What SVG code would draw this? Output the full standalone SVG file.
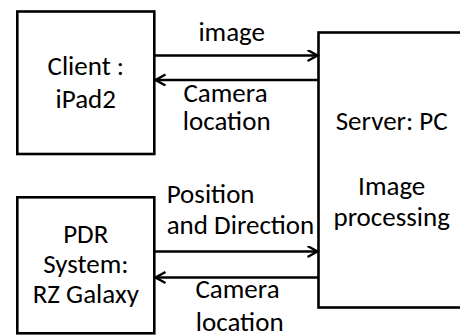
<svg xmlns="http://www.w3.org/2000/svg" width="460" height="336" viewBox="0 0 460 336">
<style>
.box{fill:#fff;stroke:#000;stroke-width:2.6}
.t{font-family:Carlito,Lato,"Liberation Sans",sans-serif;font-size:27px;fill:#000}
.c{text-anchor:middle}
.ln{stroke:#000;stroke-width:2.4;fill:none}
</style>
<defs>
<marker id="ah" markerUnits="userSpaceOnUse" markerWidth="14" markerHeight="14" refX="11" refY="6" orient="auto">
<path d="M1,0.5 L11,6 L1,11.5" fill="none" stroke="#000" stroke-width="2.4"/>
</marker>
</defs>
<rect width="460" height="336" fill="#fff"/>
<g id="client">
<rect class="box" x="17.3" y="11.5" width="137" height="142.5"/>
<text class="t c" x="85.8" y="75">Client :</text>
<text class="t c" x="85.8" y="108">iPad2</text>
</g>
<g id="pdr">
<rect class="box" x="17.3" y="197.3" width="137" height="136"/>
<text class="t c" x="85.8" y="243.3">PDR</text>
<text class="t c" x="85.8" y="273">System:</text>
<text class="t c" x="85.8" y="303">RZ Galaxy</text>
</g>
<g id="server">
<rect class="box" x="318.5" y="32.5" width="150" height="275"/>
<text class="t c" x="391.7" y="130">Server: PC</text>
<text class="t c" x="391.7" y="195">Image</text>
<text class="t c" x="391.7" y="226">processing</text>
</g>
<g id="connectors">
<line class="ln" x1="154.5" y1="55.5" x2="317.5" y2="55.5" marker-end="url(#ah)"/>
<line class="ln" x1="318.5" y1="80" x2="155.5" y2="80" marker-end="url(#ah)"/>
<line class="ln" x1="154.5" y1="251.5" x2="317.5" y2="251.5" marker-end="url(#ah)"/>
<line class="ln" x1="318.5" y1="277.5" x2="155.5" y2="277.5" marker-end="url(#ah)"/>
<text class="t c" x="231.7" y="41">image</text>
<text class="t c" x="225.5" y="101.7">Camera</text>
<text class="t c" x="226.7" y="130">location</text>
<text class="t" x="166.7" y="202.7">Position</text>
<text class="t" x="166.7" y="234">and Direction</text>
<text class="t c" x="237.5" y="298.3">Camera</text>
<text class="t c" x="239.7" y="331">location</text>
</g>
</svg>
